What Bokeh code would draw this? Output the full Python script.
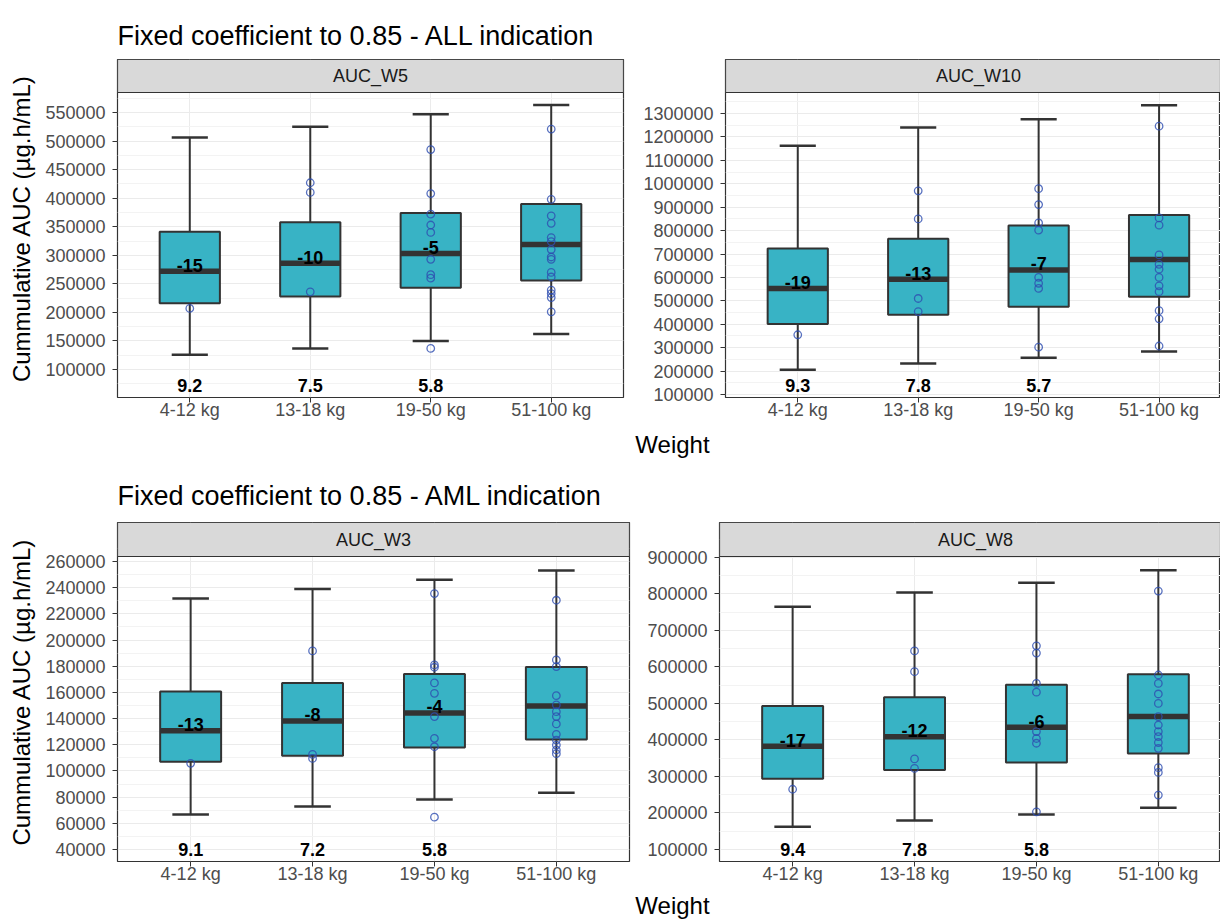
from bokeh.plotting import figure
from bokeh.layouts import column, row
from bokeh.models import Range1d, FixedTicker, NumeralTickFormatter
from bokeh.core.properties import value
from bokeh.embed import file_html
from bokeh.resources import INLINE

# ---------------- data ----------------
weight_groups = ["4-12 kg", "13-18 kg", "19-50 kg", "51-100 kg"]

w5_low = [126000, 137000, 150000, 162000]
w5_q1 = [216000, 228000, 243000, 256000]
w5_med = [272000, 286000, 303000, 319000]
w5_q3 = [341000, 358000, 374000, 390000]
w5_high = [506000, 525000, 547000, 563000]
w5_points = [
    [207000],
    [427000, 410000, 236000],
    [485000, 408000, 372000, 353000, 340000, 293000, 266000, 260000, 137000],
    [521000, 398000, 369000, 356000, 331000, 324000, 310000, 297000, 293000,
     270000, 262000, 239000, 233000, 226000, 201000],
]
w5_change = ["-15", "-10", "-5", ""]
w5_ratio = ["9.2", "7.5", "5.8", ""]
w5_ticks = [100000, 150000, 200000, 250000, 300000, 350000, 400000, 450000, 500000, 550000]

w10_low = [206000, 232000, 257000, 284000]
w10_q1 = [401000, 440000, 475000, 517000]
w10_med = [553000, 592000, 632000, 677000]
w10_q3 = [724000, 765000, 822000, 867000]
w10_high = [1163000, 1240000, 1276000, 1335000]
w10_points = [
    [355000],
    [970000, 850000, 510000, 454000],
    [979000, 911000, 833000, 802000, 600000, 575000, 553000, 302000],
    [1246000, 854000, 823000, 696000, 656000, 635000, 600000, 564000, 539000,
     458000, 423000, 307000],
]
w10_change = ["-19", "-13", "-7", ""]
w10_ratio = ["9.3", "7.8", "5.7", ""]
w10_ticks = [100000, 200000, 300000, 400000, 500000, 600000, 700000, 800000,
             900000, 1000000, 1100000, 1200000, 1300000]

w3_low = [66800, 72900, 78200, 83300]
w3_q1 = [107000, 111600, 118000, 124100]
w3_med = [130800, 138200, 144300, 149600]
w3_q3 = [160600, 167200, 174100, 179400]
w3_high = [231700, 238900, 246000, 253100]
w3_points = [
    [105800],
    [191700, 112700, 109600],
    [235500, 181000, 179200, 167200, 159300, 141500, 124900, 118500, 64700],
    [230400, 184800, 179700, 157500, 150400, 145300, 141500, 135900, 128000,
     123600, 119800, 116000, 113200],
]
w3_change = ["-13", "-8", "-4", ""]
w3_ratio = ["9.1", "7.2", "5.8", ""]
w3_ticks = [40000, 60000, 80000, 100000, 120000, 140000, 160000, 180000,
            200000, 220000, 240000, 260000]

w8_low = [162000, 179000, 196000, 214000]
w8_q1 = [294000, 318000, 338000, 363000]
w8_med = [383000, 409000, 435000, 464000]
w8_q3 = [493000, 517000, 551000, 580000]
w8_high = [765000, 804000, 831000, 865000]
w8_points = [
    [265000],
    [644000, 587000, 348000, 322000],
    [658000, 638000, 555000, 531000, 423000, 404000, 391000, 203000],
    [808000, 578000, 555000, 526000, 500000, 464000, 441000, 423000, 409000,
     393000, 377000, 324000, 311000, 249000],
]
w8_change = ["-17", "-12", "-6", ""]
w8_ratio = ["9.4", "7.8", "5.8", ""]
w8_ticks = [100000, 200000, 300000, 400000, 500000, 600000, 700000, 800000, 900000]

ratio_label_y = {"AUC_W5": 75000, "AUC_W10": 146000, "AUC_W3": 41400, "AUC_W8": 105000}
y_limits = {"AUC_W5": (51000, 585000), "AUC_W10": (87000, 1390000),
            "AUC_W3": (30840, 263800), "AUC_W8": (67000, 902700)}

title_all = "Fixed coefficient to 0.85 - ALL indication"
title_aml = "Fixed coefficient to 0.85 - AML indication"
y_title = "Cummulative AUC (µg.h/mL)"
x_title = "Weight"

# ---------------- style ----------------
FONT = "Liberation Sans"
FILL = "#38B3C5"
DARK = "#333333"
PAGE_W = 1220
PANEL_H = 305     # data area height in px
BOTTOM = 30       # room for x tick labels

xs = [i + 1 for i in range(len(weight_groups))]


def text_fig(w, h, txt, x, y, size, align="left"):
    f = figure(width=w, height=h, x_range=Range1d(0, w), y_range=Range1d(h, 0),
               toolbar_location=None, output_backend="svg", min_border=0,
               x_axis_location=None, y_axis_location=None, outline_line_color=None)
    f.grid.grid_line_color = None
    f.text(x=[x], y=[y], text=[txt], text_font=value(FONT), text_font_size=size,
           text_align=align, text_baseline="middle", text_color="#000000")
    return f


def panel(name, low, q1, med, q3, high, pts, change, ratio, ticks,
          w, left, right, xend, ylabel, strip_h):
    lo, hi = y_limits[name]
    strip_top = hi + strip_h * (hi - lo) / PANEL_H
    p = figure(width=w, height=1 + strip_h + PANEL_H + BOTTOM,
               x_range=Range1d(0.4, xend), y_range=Range1d(lo, strip_top),
               toolbar_location=None, output_backend="svg",
               min_border_left=left, min_border_right=right,
               min_border_top=1, min_border_bottom=BOTTOM,
               outline_line_color=DARK, outline_line_width=1.2)
    # whiskers
    p.segment(x0=xs, y0=q3, x1=xs, y1=high, line_color=DARK, line_width=2)
    p.segment(x0=xs, y0=low, x1=xs, y1=q1, line_color=DARK, line_width=2)
    cap = 0.15
    p.segment(x0=[x - cap for x in xs], y0=high, x1=[x + cap for x in xs], y1=high,
              line_color=DARK, line_width=2.5)
    p.segment(x0=[x - cap for x in xs], y0=low, x1=[x + cap for x in xs], y1=low,
              line_color=DARK, line_width=2.5)
    # boxes
    p.vbar(x=xs, width=0.5, bottom=q1, top=q3, fill_color=FILL,
           line_color=DARK, line_width=2)
    p.segment(x0=[x - 0.25 for x in xs], y0=med, x1=[x + 0.25 for x in xs], y1=med,
              line_color=DARK, line_width=5.5)
    # points
    px, py = [], []
    for x, g in zip(xs, pts):
        px += [x] * len(g)
        py += g
    p.scatter(x=px, y=py, marker="circle", size=7.5, fill_color=None,
              line_color="#2E4DB0", line_alpha=0.8, line_width=1.3)
    # labels
    p.text(x=xs, y=med, text=change, text_font=value(FONT), text_font_size="18px",
           text_font_style="bold", text_align="center", text_baseline="middle",
           y_offset=-6, text_color="#000000")
    p.text(x=xs, y=[ratio_label_y[name]] * len(xs), text=ratio, text_font=value(FONT),
           text_font_size="18px", text_font_style="bold", text_align="center",
           text_baseline="middle", y_offset=2, text_color="#000000")
    # facet strip
    p.quad(left=[0.4], right=[xend], bottom=[hi], top=[strip_top],
           fill_color="#D9D9D9", line_color=DARK, line_width=1.2)
    p.text(x=[sum(xs) / len(xs)], y=[(hi + strip_top) / 2], text=[name],
           text_font=value(FONT), text_font_size="18px", text_align="center",
           text_baseline="middle", text_color="#1A1A1A")

    # axes
    p.xaxis.ticker = FixedTicker(ticks=xs)
    p.xaxis.major_label_overrides = {x: g for x, g in zip(xs, weight_groups)}
    step = ticks[1] - ticks[0]
    minor = [t - step / 2 for t in ticks] + [ticks[-1] + step / 2]
    p.yaxis.ticker = FixedTicker(ticks=ticks, minor_ticks=minor)
    p.yaxis.formatter = NumeralTickFormatter(format="0")
    for ax in (p.xaxis, p.yaxis):
        ax.axis_line_color = None
        ax.major_tick_line_color = DARK
        ax.major_tick_out = 5
        ax.major_tick_in = 0
        ax.minor_tick_line_color = None
        ax.major_label_text_color = "#4D4D4D"
        ax.major_label_text_font = FONT
        ax.major_label_text_font_size = "18px"
    p.xaxis.major_label_standoff = -3
    p.yaxis.major_label_standoff = 7
    if ylabel:
        p.yaxis.axis_label = y_title
        p.yaxis.axis_label_text_font = FONT
        p.yaxis.axis_label_text_font_size = "24px"
        p.yaxis.axis_label_text_font_style = "normal"
        p.yaxis.axis_label_text_color = "#000000"
        p.yaxis.axis_label_standoff = 7
    p.xgrid.grid_line_color = "#EBEBEB"
    p.ygrid.grid_line_color = "#EBEBEB"
    p.ygrid.minor_grid_line_color = "#F3F3F3"
    return p


# row 1
p1 = panel("AUC_W5", w5_low, w5_q1, w5_med, w5_q3, w5_high, w5_points,
           w5_change, w5_ratio, w5_ticks, 633, 117, 10, 4.6, True, 33)
p2 = panel("AUC_W10", w10_low, w10_q1, w10_med, w10_q3, w10_high, w10_points,
           w10_change, w10_ratio, w10_ticks, PAGE_W - 633, 92, 0, 4.51, False, 33)
# row 2
p3 = panel("AUC_W3", w3_low, w3_q1, w3_med, w3_q3, w3_high, w3_points,
           w3_change, w3_ratio, w3_ticks, 637, 117, 8, 4.6, True, 34)
p4 = panel("AUC_W8", w8_low, w8_q1, w8_med, w8_q3, w8_high, w8_points,
           w8_change, w8_ratio, w8_ticks, PAGE_W - 637, 82, 0, 4.51, False, 34)

t1 = text_fig(PAGE_W, 58, title_all, 117, 35, "27px")
wl1 = text_fig(PAGE_W, 31, x_title, 672, 17, "24px", align="center")
t2 = text_fig(PAGE_W, 63, title_aml, 117, 37, "27px")
wl2 = text_fig(PAGE_W, 30, x_title, 672, 14, "24px", align="center")

layout = column(t1, row(p1, p2), wl1, t2, row(p3, p4), wl2)

open("out.html", "w").write(file_html(layout, INLINE))
